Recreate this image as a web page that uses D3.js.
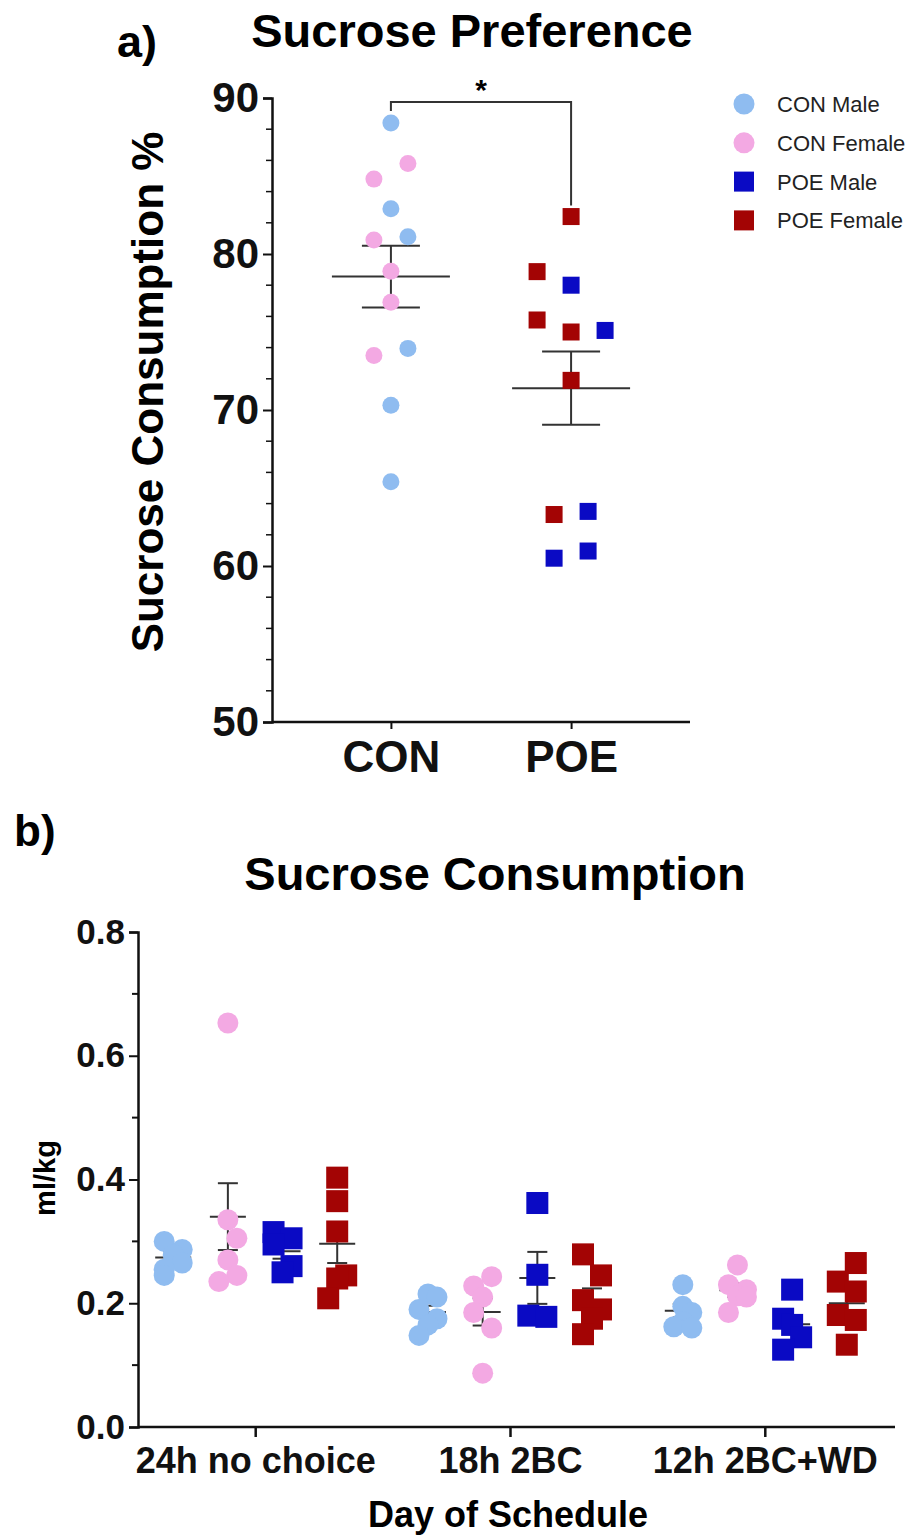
<!DOCTYPE html>
<html>
<head>
<meta charset="utf-8">
<script src="https://cdn.jsdelivr.net/npm/d3@7"></script>
<style>
  html, body { margin: 0; padding: 0; background: #ffffff; }
  svg { display: block; font-family: "Liberation Sans", Arial, sans-serif; }
</style>
</head>
<body>
<svg id="chart" width="924" height="1536"></svg>
<script>
// ---------------- DATA: panel a (Sucrose Preference) ----------------
const groupsA = ["CON", "POE"];
const conMaleA = [88.4, 82.9, 81.1, 73.95, 70.3, 65.4];
const conMaleSlotA = [0, 0, 1, 1, 0, 0];
const conFemaleA = [85.8, 84.8, 80.9, 78.9, 76.9, 73.5];
const conFemaleSlotA = [1, -1, -1, 0, 0, -1];
const poeMaleA = [78.0, 75.1, 63.5, 60.96, 60.5];
const poeMaleSlotA = [0, 2, 1, 1, -1];
const poeFemaleA = [82.4, 78.87, 75.77, 75.0, 71.9, 63.3];
const poeFemaleSlotA = [0, -2, -2, 0, 0, -1];
const meanA = [78.55, 71.4];
const semA = [1.98, 2.35];
const yTicksA = [50, 60, 70, 80, 90];

// ---------------- DATA: panel b (Sucrose Consumption) ----------------
const days = ["24h no choice", "18h 2BC", "12h 2BC+WD"];
const seriesNames = ["CON Male", "CON Female", "POE Male", "POE Female"];
const conMaleB = [
  [0.300, 0.287, 0.278, 0.265, 0.255, 0.245],
  [0.215, 0.210, 0.190, 0.175, 0.165, 0.148],
  [0.230, 0.195, 0.185, 0.170, 0.162, 0.160]
];
const conMaleSlotB = [[-1, 1, 0, 1, -1, -1], [0, 1, -1, 1, 0, -1], [0, 0, 1, 0, -1, 1]];
const conFemaleB = [
  [0.653, 0.335, 0.305, 0.270, 0.245, 0.235],
  [0.243, 0.228, 0.210, 0.185, 0.160, 0.087],
  [0.262, 0.230, 0.222, 0.212, 0.210, 0.185]
];
const conFemaleSlotB = [[0, 0, 1, 0, 1, -1], [1, -1, 0, -1, 1, 0], [0, -1, 1, 0, 1, -1]];
const poeMaleB = [
  [0.315, 0.305, 0.295, 0.260, 0.250],
  [0.362, 0.246, 0.180, 0.178],
  [0.222, 0.175, 0.165, 0.145, 0.125]
];
const poeMaleSlotB = [[-1, 1, -1, 1, 0], [0, 0, -1, 1], [0, -1, 0, 1, -1]];
const poeFemaleB = [
  [0.403, 0.365, 0.316, 0.245, 0.240, 0.208],
  [0.279, 0.245, 0.205, 0.190, 0.175, 0.150],
  [0.265, 0.235, 0.219, 0.181, 0.173, 0.133]
];
const poeFemaleSlotB = [[0, 0, 0, 1, 0, -1], [-1, 1, -1, 1, 0, -1], [1, -1, 1, -1, 1, 0]];
// mean and SEM per series per day (order: CON Male, CON Female, POE Male, POE Female)
const meanB = [
  [0.274, 0.340, 0.284, 0.296],
  [0.186, 0.186, 0.241, 0.205],
  [0.188, 0.221, 0.166, 0.200]
];
const semB = [
  [0.010, 0.054, 0.012, 0.031],
  [0.010, 0.022, 0.042, 0.019],
  [0.011, 0.011, 0.015, 0.020]
];
const yTicksB = [0, 0.2, 0.4, 0.6, 0.8];

// ---------------- STYLE ----------------
const colors = { "CON Male": "#8fbcf0", "CON Female": "#f3a9e3", "POE Male": "#0a0ac4", "POE Female": "#a30404" };
const shapes = { "CON Male": "circle", "CON Female": "circle", "POE Male": "square", "POE Female": "square" };
const lineColor = "#333333";

const svg = d3.select("#chart");

function drawMarker(g, shape, cx, cy, size, fill) {
  if (shape === "circle") {
    g.append("circle").attr("cx", cx).attr("cy", cy).attr("r", size / 2).attr("fill", fill);
  } else {
    g.append("rect").attr("x", cx - size / 2).attr("y", cy - size / 2)
      .attr("width", size).attr("height", size).attr("fill", fill);
  }
}

// ================= PANEL A =================
const axA = { left: 272, right: 690, top: 98, bottom: 722 };
const yA = d3.scaleLinear().domain([50, 90]).range([axA.bottom, axA.top]);
const xA = d3.scalePoint().domain(groupsA).range([axA.left, axA.right]).padding(0.66);
const slotA = 17;
const gA = svg.append("g");

// titles
gA.append("text").attr("x", 117).attr("y", 57).attr("font-size", 45).attr("font-weight", "bold").text("a)");
gA.append("text").attr("x", 472).attr("y", 47).attr("text-anchor", "middle")
  .attr("font-size", 47).attr("font-weight", "bold").text("Sucrose Preference");

// y axis
const yAxisA = d3.axisLeft(yA).tickValues(yTicksA).tickSize(9).tickPadding(4).tickFormat(d3.format("d"));
const yAxA = gA.append("g").attr("transform", `translate(${axA.left},0)`).call(yAxisA);
yAxA.select(".domain").attr("stroke", "#111").attr("stroke-width", 2.5);
yAxA.selectAll(".tick line").attr("stroke", "#111").attr("stroke-width", 2);
yAxA.selectAll(".tick text").attr("font-size", 42).attr("font-weight", "bold")
  .attr("fill", "#111").attr("font-family", "Liberation Sans, Arial, sans-serif");
const minorA = d3.range(52, 90, 2).filter(v => v % 10 !== 0);
gA.append("g").selectAll("line").data(minorA).join("line")
  .attr("x1", axA.left - 6).attr("x2", axA.left).attr("y1", d => yA(d)).attr("y2", d => yA(d))
  .attr("stroke", "#111").attr("stroke-width", 1.5);

// x axis
const xAxisA = d3.axisBottom(xA).tickSize(7).tickPadding(12);
const xAxA = gA.append("g").attr("transform", `translate(0,${axA.bottom})`).call(xAxisA);
xAxA.select(".domain").attr("d", `M${axA.left},0H${axA.right}`).attr("stroke", "#111").attr("stroke-width", 2.5);
xAxA.selectAll(".tick line").attr("stroke", "#111").attr("stroke-width", 2);
xAxA.selectAll(".tick text").attr("font-size", 44).attr("font-weight", "bold")
  .attr("fill", "#111").attr("font-family", "Liberation Sans, Arial, sans-serif");

// y label
gA.append("text").attr("transform", `translate(163,392) rotate(-90)`).attr("text-anchor", "middle")
  .attr("font-size", 44).attr("font-weight", "bold").text("Sucrose Consumption %");

// mean & SEM
groupsA.forEach((grp, i) => {
  const cx = xA(grp);
  const m = meanA[i], s = semA[i];
  gA.append("line").attr("x1", cx - 59).attr("x2", cx + 59).attr("y1", yA(m)).attr("y2", yA(m))
    .attr("stroke", lineColor).attr("stroke-width", 2);
  gA.append("line").attr("x1", cx).attr("x2", cx).attr("y1", yA(m - s)).attr("y2", yA(m + s))
    .attr("stroke", lineColor).attr("stroke-width", 2);
  [m - s, m + s].forEach(v => gA.append("line").attr("x1", cx - 29).attr("x2", cx + 29)
    .attr("y1", yA(v)).attr("y2", yA(v)).attr("stroke", lineColor).attr("stroke-width", 2));
});

// points
const seriesA = [
  { name: "CON Male", grp: "CON", vals: conMaleA, slots: conMaleSlotA },
  { name: "CON Female", grp: "CON", vals: conFemaleA, slots: conFemaleSlotA },
  { name: "POE Male", grp: "POE", vals: poeMaleA, slots: poeMaleSlotA },
  { name: "POE Female", grp: "POE", vals: poeFemaleA, slots: poeFemaleSlotA }
];
seriesA.forEach(s => {
  s.vals.forEach((v, j) => {
    drawMarker(gA, shapes[s.name], xA(s.grp) + s.slots[j] * slotA, yA(v),
      shapes[s.name] === "circle" ? 17 : 17, colors[s.name]);
  });
});

// significance bracket
const brTop = yA(90) + 4;
gA.append("path")
  .attr("d", `M${xA("CON")},${yA(d3.max(conMaleA)) - 12}V${brTop}H${xA("POE")}V${yA(d3.max(poeFemaleA)) - 11}`)
  .attr("fill", "none").attr("stroke", lineColor).attr("stroke-width", 2);
gA.append("text").attr("x", (xA("CON") + xA("POE")) / 2).attr("y", brTop - 2).attr("text-anchor", "middle")
  .attr("font-size", 30).attr("font-weight", "bold").text("*");

// legend
const legend = gA.append("g");
seriesNames.forEach((n, i) => {
  const ly = 104 + i * 38.8;
  drawMarker(legend, shapes[n], 744, ly, shapes[n] === "circle" ? 21 : 20, colors[n]);
  legend.append("text").attr("x", 777).attr("y", ly).attr("dy", "0.36em")
    .attr("font-size", 22).attr("fill", "#222").text(n);
});

// ================= PANEL B =================
const axB = { left: 138, right: 895, top: 932, bottom: 1427 };
const yB = d3.scaleLinear().domain([0, 0.8]).range([axB.bottom, axB.top]);
const xB = d3.scalePoint().domain(days).range([axB.left, 882]).padding(0.46);
const subB = d3.scalePoint().domain(seriesNames).range([-82, 82]);
const slotB = 9;
const gB = svg.append("g");

gB.append("text").attr("x", 14).attr("y", 846).attr("font-size", 44).attr("font-weight", "bold").text("b)");
gB.append("text").attr("x", 495).attr("y", 890).attr("text-anchor", "middle")
  .attr("font-size", 47).attr("font-weight", "bold").text("Sucrose Consumption");

const yAxisB = d3.axisLeft(yB).tickValues(yTicksB).tickSize(9).tickPadding(4).tickFormat(d3.format(".1f"));
const yAxB = gB.append("g").attr("transform", `translate(${axB.left},0)`).call(yAxisB);
yAxB.select(".domain").attr("stroke", "#111").attr("stroke-width", 2.5);
yAxB.selectAll(".tick line").attr("stroke", "#111").attr("stroke-width", 2);
yAxB.selectAll(".tick text").attr("font-size", 35).attr("font-weight", "bold")
  .attr("fill", "#111").attr("font-family", "Liberation Sans, Arial, sans-serif");
const minorB = [0.1, 0.3, 0.5, 0.7];
gB.append("g").selectAll("line").data(minorB).join("line")
  .attr("x1", axB.left - 6).attr("x2", axB.left).attr("y1", d => yB(d)).attr("y2", d => yB(d))
  .attr("stroke", "#111").attr("stroke-width", 2);

const xAxisB = d3.axisBottom(xB).tickSize(10).tickPadding(10);
const xAxB = gB.append("g").attr("transform", `translate(0,${axB.bottom})`).call(xAxisB);
xAxB.select(".domain").attr("d", `M${axB.left},0H${axB.right}`).attr("stroke", "#111").attr("stroke-width", 2.5);
xAxB.selectAll(".tick line").attr("stroke", "#111").attr("stroke-width", 2.5);
xAxB.selectAll(".tick text").attr("font-size", 36).attr("font-weight", "bold")
  .attr("fill", "#111").attr("font-family", "Liberation Sans, Arial, sans-serif");

gB.append("text").attr("transform", `translate(55,1178) rotate(-90)`).attr("text-anchor", "middle")
  .attr("font-size", 29).attr("font-weight", "bold").text("ml/kg");
gB.append("text").attr("x", 508).attr("y", 1527).attr("text-anchor", "middle")
  .attr("font-size", 36).attr("font-weight", "bold").text("Day of Schedule");

// mean & SEM lines (behind points)
days.forEach((d, di) => {
  seriesNames.forEach((n, si) => {
    const cx = xB(d) + subB(n);
    const m = meanB[di][si], s = semB[di][si];
    gB.append("line").attr("x1", cx - 18).attr("x2", cx + 18).attr("y1", yB(m)).attr("y2", yB(m))
      .attr("stroke", lineColor).attr("stroke-width", 2);
    gB.append("line").attr("x1", cx).attr("x2", cx).attr("y1", yB(m - s)).attr("y2", yB(m + s))
      .attr("stroke", lineColor).attr("stroke-width", 2);
    [m - s, m + s].forEach(v => gB.append("line").attr("x1", cx - 10).attr("x2", cx + 10)
      .attr("y1", yB(v)).attr("y2", yB(v)).attr("stroke", lineColor).attr("stroke-width", 2));
  });
});

const seriesB = [
  { name: "CON Male", vals: conMaleB, slots: conMaleSlotB },
  { name: "CON Female", vals: conFemaleB, slots: conFemaleSlotB },
  { name: "POE Male", vals: poeMaleB, slots: poeMaleSlotB },
  { name: "POE Female", vals: poeFemaleB, slots: poeFemaleSlotB }
];
seriesB.forEach(s => {
  days.forEach((d, di) => {
    s.vals[di].forEach((v, j) => {
      drawMarker(gB, shapes[s.name], xB(d) + subB(s.name) + s.slots[di][j] * slotB, yB(v),
        shapes[s.name] === "circle" ? 21 : 22, colors[s.name]);
    });
  });
});
</script>
</body>
</html>
